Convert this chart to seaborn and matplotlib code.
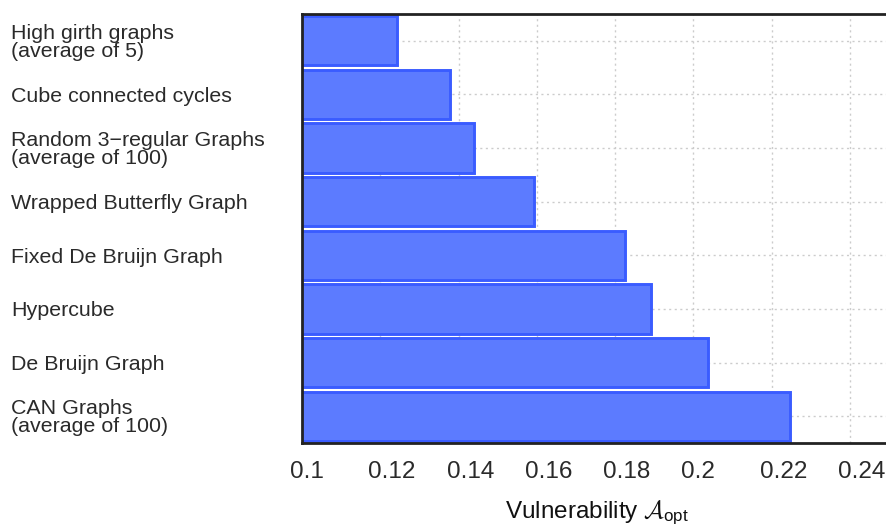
import matplotlib
matplotlib.use("Agg")
import matplotlib.pyplot as plt
import seaborn as sns
import pandas as pd

categories = [
    "High girth graphs\n(average of 5)",
    "Cube connected cycles",
    "Random 3\u2212regular Graphs\n(average of 100)",
    "Wrapped Butterfly Graph",
    "Fixed De Bruijn Graph",
    "Hypercube",
    "De Bruijn Graph",
    "CAN Graphs\n(average of 100)",
]
values = [0.1242, 0.1379, 0.1440, 0.1593, 0.1825, 0.1893, 0.2037, 0.2246]
xticks = [0.10, 0.12, 0.14, 0.16, 0.18, 0.20, 0.22, 0.24]
xtick_labels = ["0.1", "0.12", "0.14", "0.16", "0.18", "0.2", "0.22", "0.24"]

sns.set_style("white")
plt.rcParams['font.family'] = ['Liberation Sans', 'DejaVu Sans']
plt.rcParams['mathtext.fontset'] = 'custom'
plt.rcParams['mathtext.rm'] = 'Liberation Sans'
plt.rcParams['mathtext.it'] = 'Liberation Sans:italic'
plt.rcParams['mathtext.cal'] = 'cmsy10'

df = pd.DataFrame({"cat": categories, "val": values})

fig = plt.figure(figsize=(8.87, 5.32), dpi=100)
ax = fig.add_axes([302/887, 1 - 443/532, 587/887, 429/532])

sns.barplot(data=df, x="val", y="cat", orient="h", ax=ax, color="#5c7bff",
            saturation=1, edgecolor="#3a5cff", linewidth=2.1, width=0.92)

ax.set_axisbelow(True)
ax.set_xlim(0.1, 0.25)
ax.set_xticks(xticks)
ax.set_xticklabels([""] * len(xticks))
for xv, lab in zip(xticks, xtick_labels):
    ax.annotate(lab, xy=(xv, 0), xycoords=("data", "axes fraction"),
                xytext=(-12 * 0.72, -13), textcoords="offset points",
                ha="left", va="top", fontsize=17.5, color="#2a2a2a",
                annotation_clip=False)

ax.tick_params(axis="x", direction="in", length=7, width=1.5, color="#222222", pad=12)
ax.tick_params(axis="y", length=0, pad=291*72/100)
for lab in ax.get_yticklabels():
    lab.set_ha("left")
    lab.set_fontsize(15.4)
    lab.set_color("#2a2a2a")
    lab.set_linespacing(0.92)

ax.grid(True, axis="both", linestyle=(0, (1.5, 2.5)), color="#cccccc", linewidth=1)

for s in ["left", "top", "bottom"]:
    ax.spines[s].set_visible(True)
    ax.spines[s].set_color("#222222")
    ax.spines[s].set_linewidth(2)
    ax.spines[s].set_zorder(5)
ax.spines["right"].set_visible(False)

ax.set_ylabel("")
ax.set_xlabel(r"Vulnerability $\mathcal{A}_{\mathrm{opt}}$", fontsize=17.5, color="#111111")
ax.xaxis.set_label_coords((597 - 302) / 587, (443 - 499) / 429)

fig.savefig("out.png", dpi=100)
